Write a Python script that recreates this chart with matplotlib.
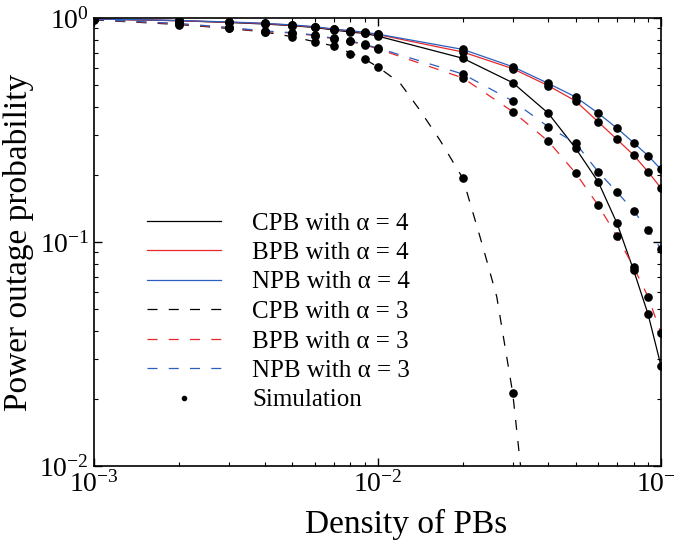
import numpy as np
import matplotlib
matplotlib.use("Agg")
import matplotlib.pyplot as plt

plt.rcParams['font.family'] = ['Liberation Serif', 'DejaVu Serif']
plt.rcParams['mathtext.fontset'] = 'stix'

# densities where simulation points were taken
density = [1e-3, 2e-3, 3e-3, 4e-3, 5e-3, 6e-3, 7e-3, 8e-3, 9e-3, 1e-2,
           2e-2, 3e-2, 4e-2, 5e-2, 6e-2, 7e-2, 8e-2, 9e-2, 1e-1]

# alpha = 4
cpb4 = [0.990, 0.972, 0.955, 0.940, 0.924, 0.907, 0.884, 0.866, 0.853, 0.831,
        0.661, 0.514, 0.376, 0.262, 0.186, 0.121, 0.075, 0.0477, 0.0280]
bpb4 = [0.990, 0.973, 0.957, 0.945, 0.928, 0.912, 0.890, 0.874, 0.860, 0.844,
        0.705, 0.594, 0.499, 0.426, 0.344, 0.287, 0.2445, 0.206, 0.174]
npb4 = [0.990, 0.975, 0.960, 0.947, 0.931, 0.915, 0.893, 0.878, 0.863, 0.848,
        0.724, 0.606, 0.511, 0.444, 0.376, 0.322, 0.2775, 0.243, 0.211]

# alpha = 3
bpb3 = [0.985, 0.940, 0.902, 0.869, 0.857, 0.835, 0.808, 0.787, 0.758, 0.729,
        0.540, 0.382, 0.282, 0.203, 0.146, 0.106, 0.0774, 0.0570, 0.0391]
npb3 = [0.985, 0.945, 0.907, 0.875, 0.860, 0.840, 0.812, 0.790, 0.762, 0.735,
        0.562, 0.426, 0.327, 0.276, 0.206, 0.167, 0.138, 0.113, 0.0931]
cpb3_sim_x = [1e-3, 2e-3, 3e-3, 4e-3, 5e-3, 6e-3, 7e-3, 8e-3, 9e-3, 1e-2, 2e-2, 3e-2]
cpb3_sim = [0.980, 0.935, 0.898, 0.866, 0.825, 0.784, 0.750, 0.691, 0.656, 0.606,
            0.1925, 0.0211]
# analytical CPB alpha=3 curve, read at extra points where it falls off
cpb3_x = [1e-3, 2e-3, 3e-3, 4e-3, 5e-3, 6e-3, 7e-3, 8e-3, 9e-3, 1e-2,
          0.012, 0.0141, 0.0166, 0.02, 0.02355, 0.02634, 0.03, 0.0318, 0.0335]
cpb3 = [0.980, 0.935, 0.898, 0.866, 0.825, 0.784, 0.750, 0.700, 0.656, 0.606,
        0.513, 0.388, 0.285, 0.1925, 0.095, 0.057, 0.0211, 0.0106, 0.006]

fig = plt.figure(figsize=(6.74, 5.42), dpi=100)
ax = fig.add_axes([0.1395, 0.1402, 0.8412, 0.8266])

red = '#e8282a'
blue = '#2a5fbf'
lw = 0.9
dash = (8, 9)

ax.plot(density, cpb4, color='black', lw=lw, label='CPB with α = 4')
ax.plot(density, bpb4, color=red, lw=lw, label='BPB with α = 4')
ax.plot(density, npb4, color=blue, lw=lw, label='NPB with α = 4')
ax.plot(cpb3_x, cpb3, color='black', lw=lw, dashes=dash, label='CPB with α = 3')
ax.plot(density, bpb3, color=red, lw=lw, dashes=dash, label='BPB with α = 3')
ax.plot(density, npb3, color=blue, lw=lw, dashes=dash, label='NPB with α = 3')

ms = 5.2
for ys in (cpb4, bpb4, npb4, bpb3, npb3):
    ax.plot(density, ys, 'o', color='black', ms=ms, zorder=5)
ax.plot(cpb3_sim_x, cpb3_sim, 'o', color='black', ms=ms, zorder=5)
ax.plot([], [], '.', color='black', ms=6, label='Simulation')

ax.set_xscale('log')
ax.set_yscale('log')
ax.set_xlim(1e-3, 1e-1)
ax.set_ylim(1e-2, 1)

ax.tick_params(which='both', direction='in', top=True, right=True, labelsize=20)
ax.tick_params(which='major', length=6, width=1)
ax.tick_params(which='minor', length=3, width=0.8)
for s in ax.spines.values():
    s.set_linewidth(1.2)

ax.set_xlabel('Density of PBs', fontsize=24)
ax.xaxis.set_label_coords(0.55, -0.095)
ax.set_ylabel('Power outage probability', fontsize=24, labelpad=4)

ax.legend(loc='upper left', bbox_to_anchor=(147 / 674, 1 - 212 / 542),
          bbox_transform=fig.transFigure, frameon=False, fontsize=18,
          handlelength=2.96, handletextpad=1.24, labelspacing=0.28,
          borderpad=0, borderaxespad=0)

fig.savefig('out.png', dpi=100)
